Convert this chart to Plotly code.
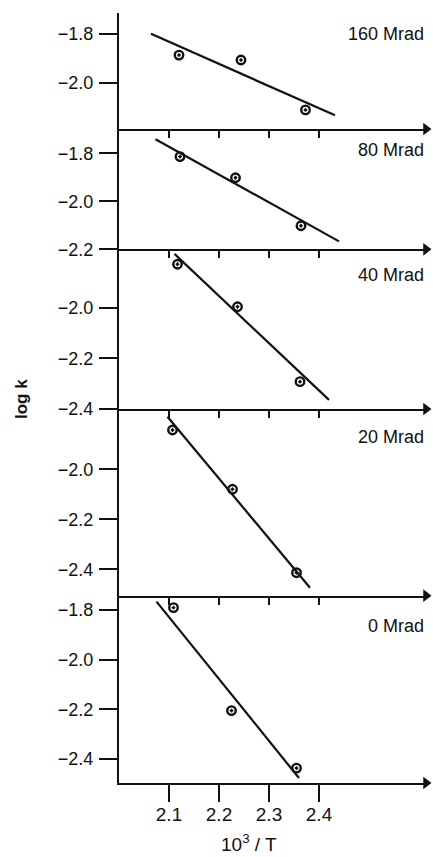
import plotly.graph_objects as go

# Arrhenius plots of log k against 10^3/T for each irradiation dose
doses = ["160 Mrad", "80 Mrad", "40 Mrad", "20 Mrad", "0 Mrad"]

x_160 = [2.120, 2.244, 2.373]
logk_160 = [-1.886, -1.906, -2.110]
x_80 = [2.122, 2.233, 2.364]
logk_80 = [-1.814, -1.902, -2.102]
x_40 = [2.117, 2.237, 2.362]
logk_40 = [-1.828, -1.996, -2.292]
x_20 = [2.107, 2.227, 2.355]
logk_20 = [-1.843, -2.080, -2.414]
x_0 = [2.109, 2.225, 2.355]
logk_0 = [-1.791, -2.205, -2.436]

# straight-line fits (end points)
fit_x_160 = [2.064, 2.432]
fit_y_160 = [-1.799, -2.132]
fit_x_80 = [2.073, 2.440]
fit_y_80 = [-1.742, -2.167]
fit_x_40 = [2.111, 2.420]
fit_y_40 = [-1.787, -2.364]
fit_x_20 = [2.097, 2.382]
fit_y_20 = [-1.790, -2.474]
fit_x_0 = [2.075, 2.360]
fit_y_0 = [-1.767, -2.476]

x_ticks = [2.1, 2.2, 2.3, 2.4]
y_ticks_160 = [-1.8, -2.0]
y_ticks_80 = [-1.8, -2.0, -2.2]
y_ticks_40 = [-2.0, -2.2, -2.4]
y_ticks_20 = [-2.0, -2.2, -2.4]
y_ticks_0 = [-1.8, -2.0, -2.2, -2.4]

points_x = [x_160, x_80, x_40, x_20, x_0]
points_y = [logk_160, logk_80, logk_40, logk_20, logk_0]
fits_x = [fit_x_160, fit_x_80, fit_x_40, fit_x_20, fit_x_0]
fits_y = [fit_y_160, fit_y_80, fit_y_40, fit_y_20, fit_y_0]
y_ticks = [y_ticks_160, y_ticks_80, y_ticks_40, y_ticks_20, y_ticks_0]

# layout of the stacked panels
W, H = 433, 857
M_L, M_R, M_T, M_B = 119, 7, 13, 74
plot_w = W - M_L - M_R
plot_h = H - M_T - M_B
edges_px = [13, 129, 249.3, 409, 595.7, 783]
domains = [[(H - M_B - edges_px[i + 1]) / plot_h, (H - M_B - edges_px[i]) / plot_h]
           for i in range(5)]
y_ranges = [[-2.188, -1.714], [-2.2, -1.699], [-2.4, -1.769],
            [-2.506, -1.759], [-2.496, -1.743]]
label_pos = [0.815, 0.825, 0.839, 0.852, 0.836]
x_range = [2.0, 2.0 + plot_w / 500.0]

FONT = "Liberation Sans, Arial, Helvetica, sans-serif"
INK = "#111111"

fig = go.Figure()
layout = dict(
    width=W, height=H,
    margin=dict(l=M_L, r=M_R, t=M_T, b=M_B),
    paper_bgcolor="white", plot_bgcolor="white",
    showlegend=False,
    font=dict(family=FONT, color=INK),
)

annotations = []
for i in range(5):
    k = "" if i == 0 else str(i + 1)
    xa, ya = "x" + k, "y" + k
    fig.add_trace(go.Scatter(
        x=fits_x[i], y=fits_y[i], mode="lines",
        line=dict(color=INK, width=2.2),
        xaxis=xa, yaxis=ya, hoverinfo="skip"))
    fig.add_trace(go.Scatter(
        x=points_x[i], y=points_y[i], mode="markers",
        marker=dict(symbol="circle-open-dot", size=8.5, color=INK,
                    line=dict(color=INK, width=2.4)),
        xaxis=xa, yaxis=ya))
    # arrowhead closing the axis of this panel
    fig.add_trace(go.Scatter(
        x=[x_range[1]], y=[y_ranges[i][0]], mode="markers",
        marker=dict(symbol="triangle-right", size=11, color=INK,
                    line=dict(width=0)),
        cliponaxis=False, xaxis=xa, yaxis=ya, hoverinfo="skip"))

    bottom = i == 4
    xaxis = dict(
        domain=[0, 1], range=x_range, anchor=ya,
        showgrid=False, zeroline=False,
        showline=True, linecolor=INK, linewidth=2,
        ticks="outside", tickcolor=INK, tickwidth=2,
        ticklen=17 if bottom else 7,
        tickvals=x_ticks, tickformat=".1f",
        showticklabels=bottom,
        tickfont=dict(family=FONT, size=19, color=INK),
        ticklabelstandoff=-4,
    )
    if i > 0:
        xaxis["matches"] = "x"
    layout["xaxis" + k] = xaxis

    layout["yaxis" + k] = dict(
        domain=domains[i], range=y_ranges[i], anchor=xa,
        showgrid=False, zeroline=False,
        showline=True, linecolor=INK, linewidth=2,
        ticks="outside", ticklen=18, tickwidth=2, tickcolor=INK,
        tickvals=y_ticks[i], tickformat=".1f",
        tickfont=dict(family=FONT, size=18, color=INK),
        ticklabelstandoff=2,
    )

    annotations.append(dict(
        x=1, y=label_pos[i], xref="paper", yref=ya + " domain",
        xanchor="right", yanchor="middle", showarrow=False,
        text=doses[i], font=dict(family=FONT, size=18, color=INK)))

# upward halves of the ticks on the axes between panels
for i in range(1, 5):
    k = str(i + 1)
    layout["xaxis" + str(i + 5)] = dict(
        overlaying="x" + k, anchor="y" + k, side="top", matches="x",
        range=x_range, showgrid=False, zeroline=False, showline=False,
        ticks="outside", ticklen=7, tickwidth=2, tickcolor=INK,
        tickvals=x_ticks, showticklabels=False,
    )
# the value axis runs on below the lowest horizontal axis
layout["xaxis10"] = dict(
    overlaying="x5", anchor="y5", side="bottom", matches="x",
    range=x_range, showgrid=False, zeroline=False, showline=False,
    ticks="outside", ticklen=17, tickwidth=2, tickcolor=INK,
    tickvals=[x_range[0]], showticklabels=False,
)

annotations.append(dict(
    x=(21 - M_L) / plot_w, y=(H - M_B - 399) / plot_h,
    xref="paper", yref="paper", textangle=-90, showarrow=False,
    xanchor="center", yanchor="middle",
    text="<b>log k</b>", font=dict(family=FONT, size=17, color=INK)))
annotations.append(dict(
    x=(249 - M_L) / plot_w, y=(H - M_B - 843) / plot_h,
    xref="paper", yref="paper", showarrow=False,
    xanchor="center", yanchor="middle",
    text="10<sup>3</sup> / T", font=dict(family=FONT, size=19, color=INK)))

layout["annotations"] = annotations
fig.update_layout(**layout)
fig.write_html("out.html")
